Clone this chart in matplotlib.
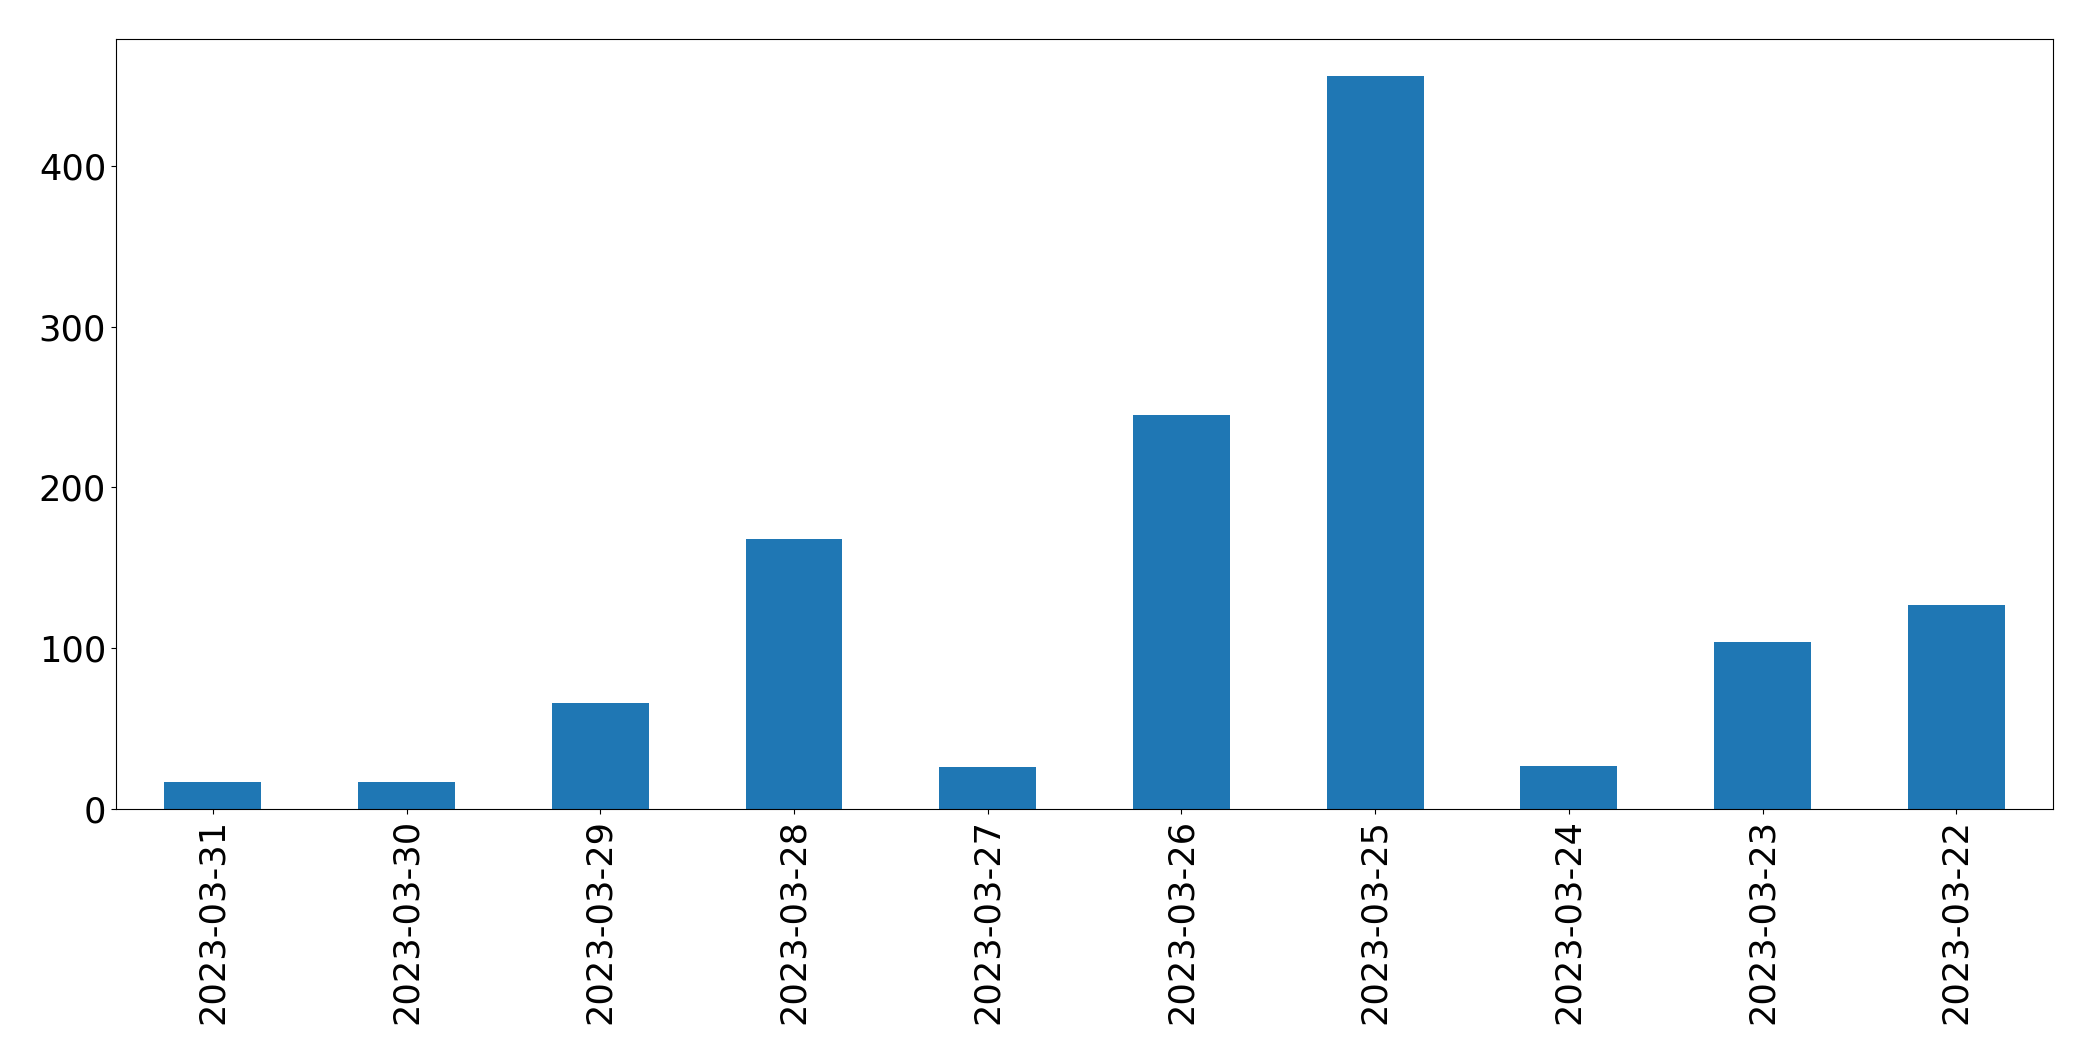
import matplotlib
matplotlib.use('Agg')
import matplotlib.pyplot as plt
import pandas as pd

# 每日数量（按日期倒序）
dates = ['2023-03-31', '2023-03-30', '2023-03-29', '2023-03-28', '2023-03-27',
         '2023-03-26', '2023-03-25', '2023-03-24', '2023-03-23', '2023-03-22']
counts = [17, 17, 66, 168, 26, 245, 456, 27, 104, 127]

s = pd.Series(counts, index=dates)

fig, ax = plt.subplots(figsize=(20.93, 10.61), dpi=100)
s.plot(kind='bar', ax=ax, color='#1f77b4', width=0.5)
ax.tick_params(axis='both', labelsize=25.3)
plt.xticks(rotation=90)
plt.subplots_adjust(left=0.0554, right=0.981, top=0.9632, bottom=0.2375)
plt.savefig('out.png', dpi=100)
plt.close()
